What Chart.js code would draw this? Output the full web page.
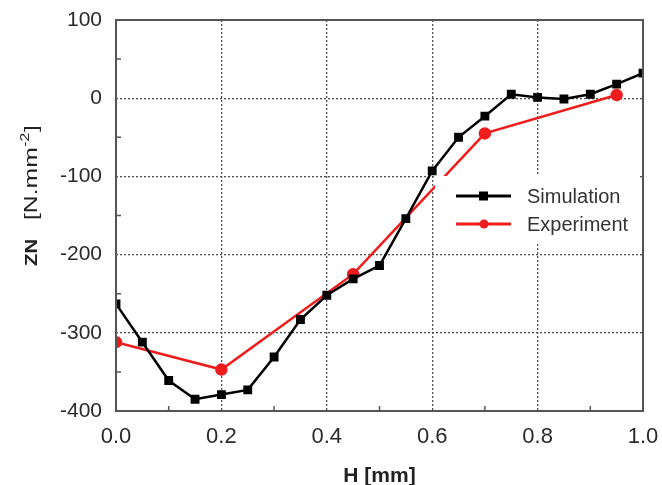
<!DOCTYPE html>
<html><head><meta charset="utf-8">
<script src="https://cdn.jsdelivr.net/npm/chart.js@4.4.1/dist/chart.umd.min.js"></script>
<style>html,body{margin:0;padding:0;background:#fff}#wrap{width:662px;height:485px;position:relative}</style>
</head><body><div id="wrap"><canvas id="c" width="662" height="485"></canvas></div>
<script>
const simH  = [0,0.05,0.1,0.15,0.2,0.25,0.3,0.35,0.4,0.45,0.5,0.55,0.6,0.65,0.7,0.75,0.8,0.85,0.9,0.95,1.0];
const simZN = [-263,-312,-361,-385,-379,-373,-331,-283,-252,-231,-214,-154,-93,-50,-23,5,1,-1,5,18,32];
const expH  = [0,0.2,0.45,0.7,0.95];
const expZN = [-312,-347,-225,-45,4];
const xTicks = [0,0.2,0.4,0.6,0.8,1.0];
const yTicks = [-400,-300,-200,-100,0,100];
const xMinor = [0.1,0.3,0.5,0.7,0.9];
const yMinor = [-350,-250,-150,-50,50];
const seriesNames = ['Simulation','Experiment'];
const xTitle = 'H [mm]';

const FONT = "'Liberation Sans', Arial, sans-serif";
const edgeColor = c => (c.tick && (c.tick.value === c.scale.min || c.tick.value === c.scale.max)) ? 'rgba(0,0,0,0)' : '#505050';

const decor = {
  id: 'decor',
  afterDatasetDraw(chart, args) {
    if (args.index !== 1) return;
    const ctx = chart.ctx, a = chart.chartArea;
    ctx.save();
    ctx.fillStyle = '#ffffff';
    ctx.fillRect(435, 176, a.right - 3 - 435, 68);
    ctx.restore();
  },
  afterDraw(chart) {
    const ctx = chart.ctx, a = chart.chartArea;
    const xs = chart.scales.x, ys = chart.scales.y;
    ctx.save();
    ctx.strokeStyle = '#555'; ctx.lineWidth = 1.5;
    ctx.beginPath();
    xMinor.forEach(v => { const p = xs.getPixelForValue(v); ctx.moveTo(p, a.bottom); ctx.lineTo(p, a.bottom - 5); });
    yMinor.forEach(v => { const p = ys.getPixelForValue(v); ctx.moveTo(a.left, p); ctx.lineTo(a.left + 5, p); });
    ctx.stroke();
    ctx.strokeStyle = '#555'; ctx.lineWidth = 2;
    ctx.strokeRect(a.left, a.top, a.right - a.left, a.bottom - a.top);
    const rows = [{y:196, c:'#000000', s:'rect'}, {y:224, c:'#ee1c1c', s:'circle'}];
    rows.forEach((r, i) => {
      ctx.strokeStyle = r.c; ctx.lineWidth = 3;
      ctx.beginPath(); ctx.moveTo(456, r.y); ctx.lineTo(511, r.y); ctx.stroke();
      ctx.fillStyle = r.c;
      if (r.s === 'rect') ctx.fillRect(479, r.y - 4.5, 9, 9);
      else { ctx.beginPath(); ctx.arc(484, r.y, 4.5, 0, Math.PI*2); ctx.fill(); }
      ctx.fillStyle = '#333'; ctx.font = '20px ' + FONT;
      ctx.textBaseline = 'middle'; ctx.textAlign = 'left';
      ctx.fillText(seriesNames[i], 527, r.y + 1);
    });
    // y-axis title (mixed weights + superscript)
    ctx.translate(37, 266); ctx.rotate(-Math.PI/2);
    ctx.textBaseline = 'alphabetic'; ctx.textAlign = 'left'; ctx.fillStyle = '#222';
    ctx.save(); ctx.scale(1.2, 1);
    ctx.font = 'bold 17px ' + FONT; ctx.fillText('ZN', 0, 0);
    ctx.restore();
    ctx.translate(46, 0); ctx.scale(1.3, 1);
    let x = 0;
    ctx.font = '19px ' + FONT; ctx.fillText('[N.mm', x, 0); x += ctx.measureText('[N.mm').width + 0.5;
    ctx.font = '12px ' + FONT; ctx.fillText('-2', x, -8); x += ctx.measureText('-2').width + 0.5;
    ctx.font = '19px ' + FONT; ctx.fillText(']', x, 0);
    ctx.restore();
  }
};

new Chart(document.getElementById('c'), {
  type: 'line',
  data: {
    datasets: [
      { label: seriesNames[0], data: simH.map((h,i)=>({x:h,y:simZN[i]})), borderColor:'#000', backgroundColor:'#000',
        borderWidth:2.5, pointStyle:'rect', pointRadius:4.5, tension:0 },
      { label: seriesNames[1], data: expH.map((h,i)=>({x:h,y:expZN[i]})), borderColor:'#ee1c1c', backgroundColor:'#ee1c1c',
        borderWidth:2.5, pointStyle:'circle', pointRadius:5, tension:0 }
    ]
  },
  options: {
    responsive:false, animation:false,
    layout:{ autoPadding:false, padding:{ top:20, right:19, left:0, bottom:0 } },
    plugins:{ legend:{display:false}, tooltip:{enabled:false} },
    scales:{
      x:{ type:'linear', min:0, max:1,
        afterBuildTicks: s => { s.ticks = xTicks.map(v=>({value:v})); },
        afterFit: s => { s.height = 74; s.paddingLeft = 0; s.paddingRight = 0; },
        ticks:{ callback: v => Number(v).toFixed(1), font:{size:22, family:FONT}, color:'#2a2a2a', padding:13, maxRotation:0 },
        grid:{ color: edgeColor, lineWidth:1.3, drawTicks:false },
        border:{ display:false, dash:[2,2] },
        title:{ display:true, text:xTitle, font:{size:21, weight:'bold', family:FONT}, color:'#222', padding:{top:0,bottom:-4} }
      },
      y:{ type:'linear', min:-400, max:100,
        afterBuildTicks: s => { s.ticks = yTicks.map(v=>({value:v})); },
        afterFit: s => { s.width = 116; s.paddingTop = 0; s.paddingBottom = 0; },
        ticks:{ font:{size:21, family:FONT}, color:'#2a2a2a', padding:14 },
        grid:{ color: edgeColor, lineWidth:1.3, drawTicks:false },
        border:{ display:false, dash:[2,2] }
      }
    }
  },
  plugins:[decor]
});
</script></body></html>
